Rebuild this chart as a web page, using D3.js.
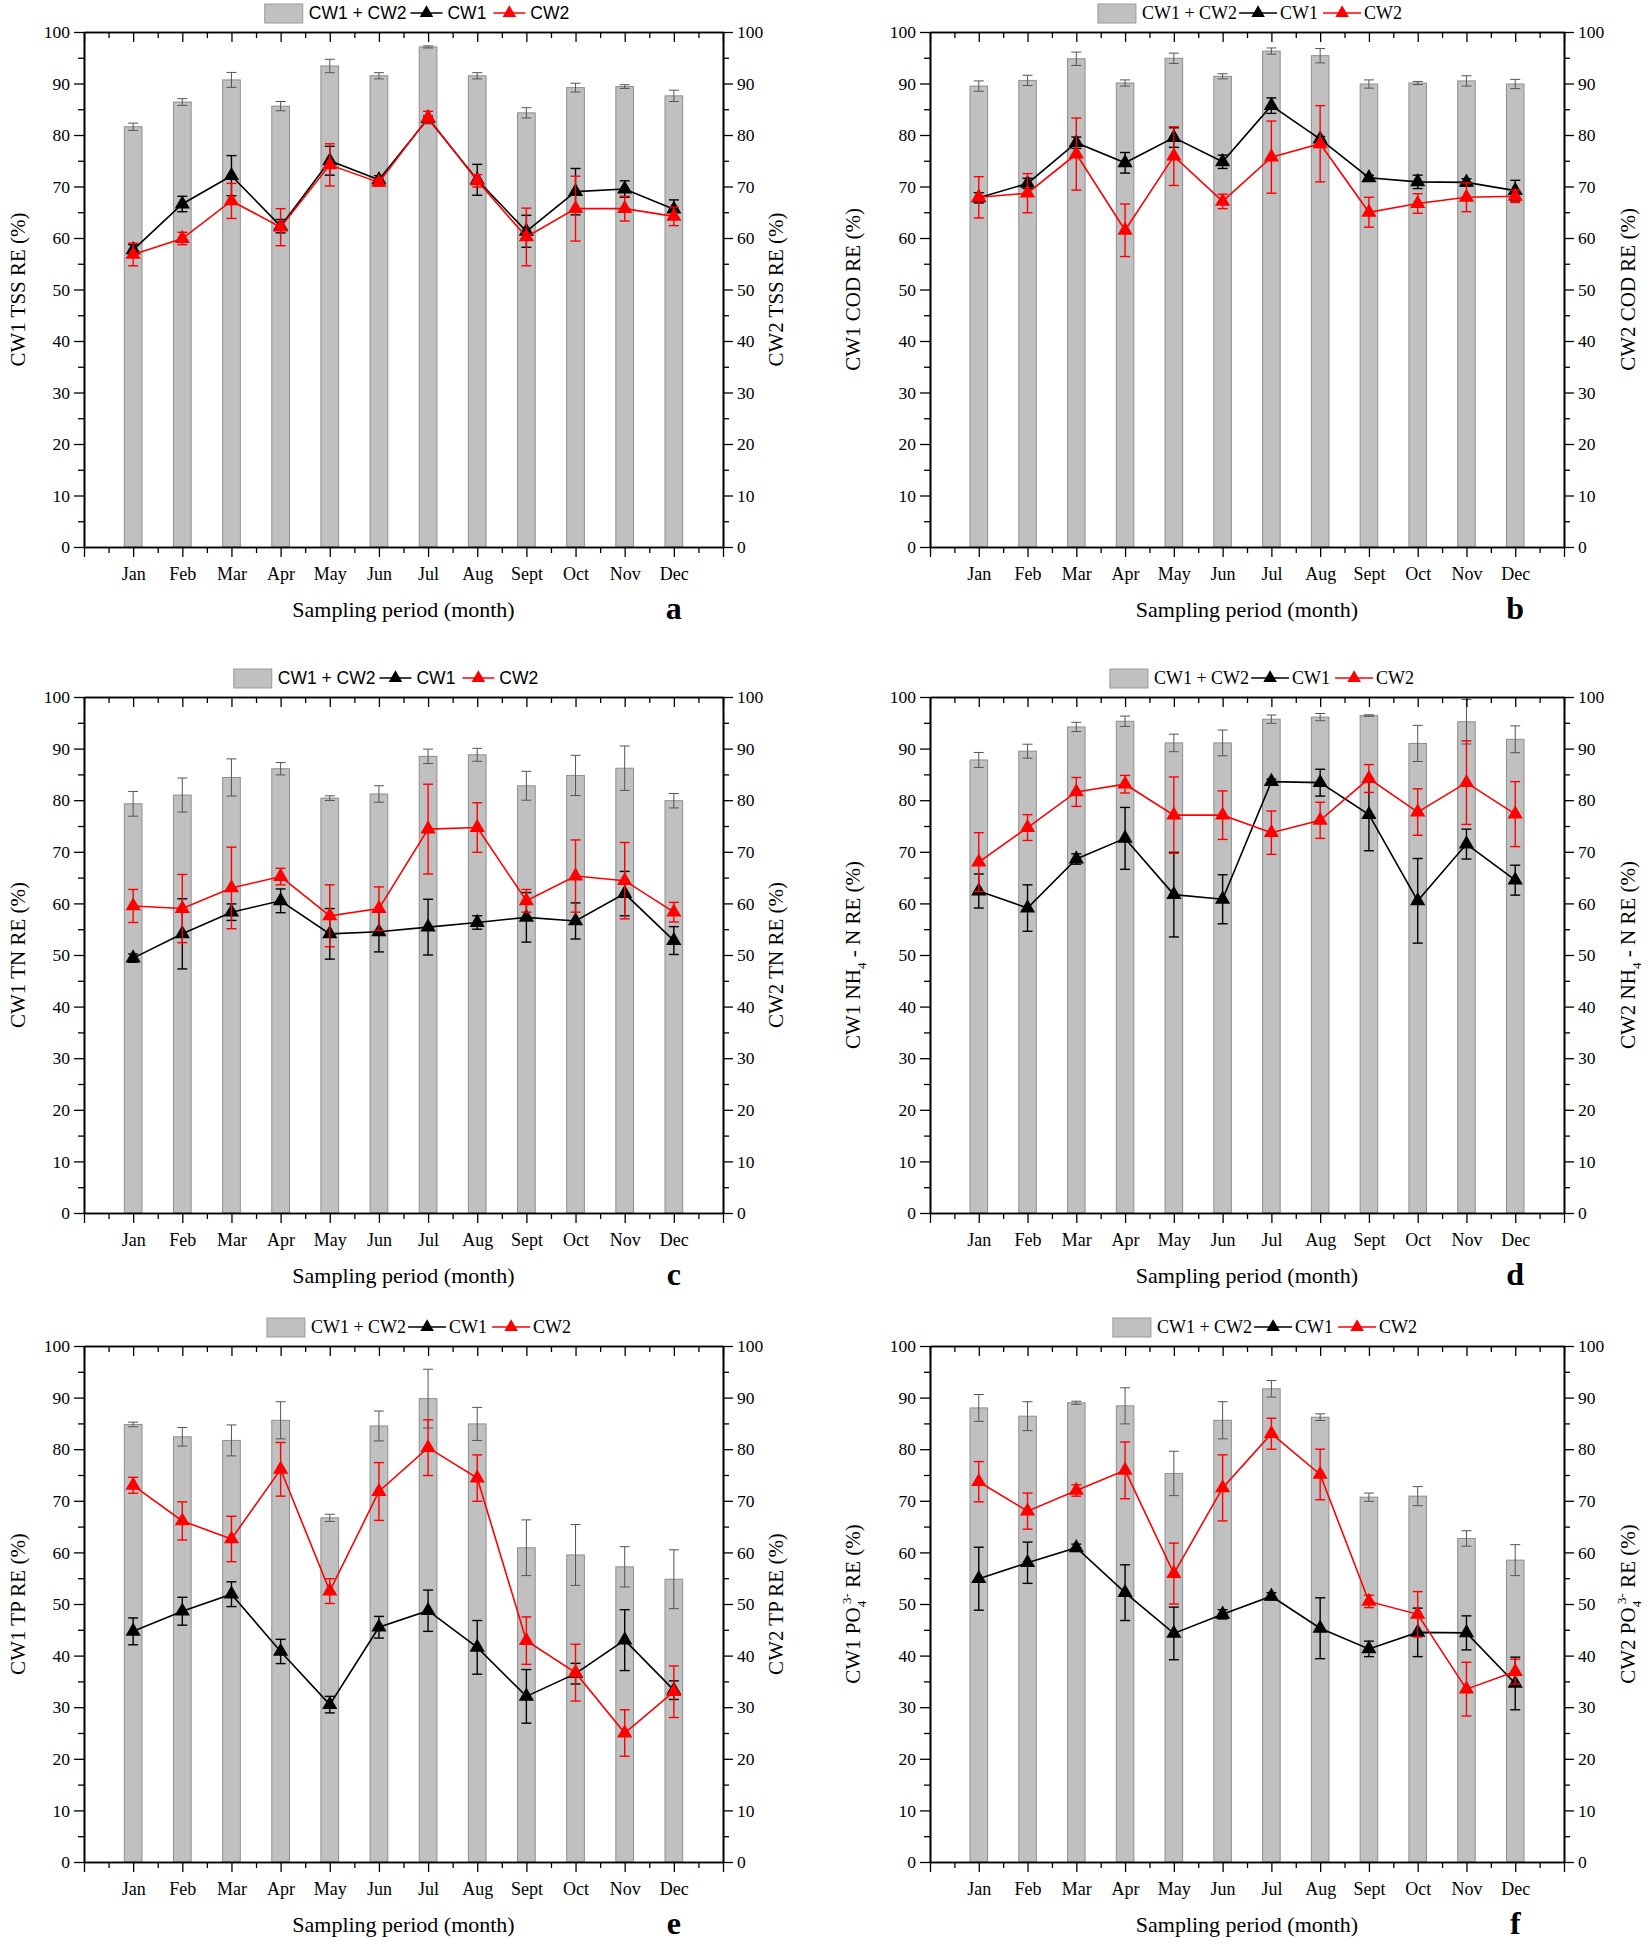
<!DOCTYPE html>
<html><head><meta charset="utf-8">
<script src="https://cdn.jsdelivr.net/npm/d3@7"></script>
<style>body{margin:0;background:#fff}</style>
</head><body>
<svg id="c" width="1652" height="1944" xmlns="http://www.w3.org/2000/svg"></svg>
<script>
const months = ["Jan","Feb","Mar","Apr","May","Jun","Jul","Aug","Sept","Oct","Nov","Dec"];
const yTicks = [0,10,20,30,40,50,60,70,80,90,100];

// (a) TSS
const tssBar    = [81.6,86.4,90.7,85.6,93.4,91.5,97.1,91.5,84.3,89.2,89.4,87.6];
const tssBarErr = [0.7,0.65,1.45,0.9,1.3,0.6,0.2,0.6,1.0,0.85,0.35,1.1];
const tssCW1    = [57.7,66.6,72.1,62.3,75.0,71.3,83.2,71.3,61.3,69.0,69.5,65.6];
const tssCW1Err = [1.0,1.5,3.9,1.3,2.8,0.8,0.5,3.0,3.1,4.5,1.6,1.8];
const tssCW2    = [56.8,59.9,67.2,62.1,74.2,70.8,83.4,71.1,60.2,65.7,65.7,64.2];
const tssCW2Err = [2.2,1.2,3.4,3.6,4.1,0.7,1.2,1.2,5.6,6.3,2.4,1.8];

// (b) COD
const codBar    = [89.5,90.6,94.8,90.1,94.9,91.4,96.3,95.4,89.9,90.1,90.5,89.9];
const codBarErr = [1.0,1.0,1.3,0.6,1.0,0.5,0.6,1.4,0.8,0.3,1.0,0.9];
const codCW1    = [67.8,70.6,78.5,74.6,79.5,74.8,85.7,79.2,71.7,70.9,70.8,69.2];
const codCW1Err = [1.0,1.0,1.1,2.0,1.9,1.3,1.5,0.5,0.5,1.3,0.7,2.0];
const codCW2    = [67.9,68.7,76.3,61.5,75.9,67.1,75.7,78.3,65.0,66.7,67.9,68.1];
const codCW2Err = [4.0,3.8,7.0,5.1,5.7,1.4,7.0,7.4,2.9,1.9,2.8,1.2];

// (c) TN
const tnBar    = [79.3,81.0,84.4,86.1,80.4,81.2,88.5,88.8,82.8,84.8,86.2,79.9];
const tnBarErr = [2.4,3.3,3.6,1.2,0.45,1.6,1.4,1.25,2.8,3.9,4.3,1.4];
const tnCW1    = [49.4,54.1,58.3,60.5,54.1,54.5,55.4,56.3,57.3,56.6,61.9,52.8];
const tnCW1Err = [0.8,6.8,1.6,2.3,4.9,3.9,5.4,1.3,4.8,3.5,4.3,2.7];
const tnCW2    = [59.5,59.0,63.0,65.2,57.6,59.0,74.4,74.7,60.5,65.3,64.4,58.3];
const tnCW2Err = [3.2,6.6,7.9,1.6,6.0,4.2,8.7,4.8,2.2,7.0,7.4,1.9];

// (d) NH4-N
const nhBar    = [87.8,89.5,94.2,95.3,91.1,91.1,95.7,96.1,96.4,91.0,95.2,91.8];
const nhBarErr = [1.45,1.35,0.9,1.0,1.7,2.5,0.8,0.7,0.15,3.5,4.3,2.6];
const nhCW1    = [62.4,59.1,68.6,72.6,61.7,60.8,83.6,83.4,77.2,60.5,71.5,64.5];
const nhCW1Err = [3.3,4.5,1.0,6.0,8.2,4.75,0.5,2.6,7.0,8.2,2.9,2.9];
const nhCW2    = [68.0,74.7,81.6,83.1,77.1,77.1,73.7,76.1,84.2,77.7,83.4,77.3];
const nhCW2Err = [5.7,2.5,2.8,1.7,7.4,4.7,4.2,3.5,2.7,4.5,8.1,6.3];

// (e) TP
const tpBar    = [84.8,82.4,81.7,85.6,66.7,84.5,89.8,84.9,60.9,59.5,57.2,54.8];
const tpBarErr = [0.45,1.8,3.0,3.6,0.7,2.9,5.7,3.2,5.4,5.9,3.9,5.7];
const tpCW1    = [44.7,48.6,51.9,40.8,30.5,45.5,48.7,41.6,32.1,36.5,43.0,33.3];
const tpCW1Err = [2.6,2.7,2.4,2.35,1.6,2.1,4.0,5.2,5.2,2.0,5.9,1.8];
const tpCW2    = [73.0,66.1,62.6,76.1,52.5,71.8,80.3,74.4,42.9,36.7,25.0,33.0];
const tpCW2Err = [1.55,3.7,4.4,5.2,2.4,5.6,5.4,4.5,4.6,5.5,4.5,5.0];

// (f) PO4
const poBar    = [88.0,86.4,89.0,88.4,75.3,85.6,91.7,86.2,70.7,70.9,62.7,58.5];
const poBarErr = [2.6,2.8,0.3,3.5,4.3,3.6,1.6,0.65,0.8,1.85,1.5,3.0];
const poCW1    = [54.9,58.0,60.9,52.2,44.3,48.0,51.5,45.3,41.3,44.5,44.4,34.6];
const poCW1Err = [6.1,4.0,0.7,5.4,5.1,0.9,0.7,5.9,1.5,4.7,3.3,5.1];
const poCW2    = [73.7,68.0,72.0,75.9,55.9,72.5,83.0,75.1,50.5,48.0,33.5,36.9];
const poCW2Err = [3.9,3.5,1.1,5.5,5.9,6.4,3.0,4.9,1.2,4.4,5.2,2.4];

const legendLabels = ["CW1 + CW2","CW1","CW2"];
const xTitle = "Sampling period (month)";

const panels = [
  {id:"a", col:0,row:0, bar:tssBar,barErr:tssBarErr,cw1:tssCW1,cw1Err:tssCW1Err,cw2:tssCW2,cw2Err:tssCW2Err,
   yl:[{t:"CW1 TSS RE (%)"}], yr:[{t:"CW2 TSS RE (%)"}], legSans:true, legX:417},
  {id:"b", col:1,row:0, bar:codBar,barErr:codBarErr,cw1:codCW1,cw1Err:codCW1Err,cw2:codCW2,cw2Err:codCW2Err,
   yl:[{t:"CW1 COD RE (%)"}], yr:[{t:"CW2 COD RE (%)"}], legSans:false, legX:1250},
  {id:"c", col:0,row:1, bar:tnBar,barErr:tnBarErr,cw1:tnCW1,cw1Err:tnCW1Err,cw2:tnCW2,cw2Err:tnCW2Err,
   yl:[{t:"CW1 TN RE (%)"}], yr:[{t:"CW2 TN RE (%)"}], legSans:true, legX:386},
  {id:"d", col:1,row:1, bar:nhBar,barErr:nhBarErr,cw1:nhCW1,cw1Err:nhCW1Err,cw2:nhCW2,cw2Err:nhCW2Err,
   yl:[{t:"CW1 NH"},{t:"4",sub:1},{t:" - N RE (%)"}], yr:[{t:"CW2 NH"},{t:"4",sub:1},{t:" - N RE (%)"}], legSans:false, legX:1262},
  {id:"e", col:0,row:2, bar:tpBar,barErr:tpBarErr,cw1:tpCW1,cw1Err:tpCW1Err,cw2:tpCW2,cw2Err:tpCW2Err,
   yl:[{t:"CW1 TP RE (%)"}], yr:[{t:"CW2 TP RE (%)"}], legSans:false, legX:419},
  {id:"f", col:1,row:2, bar:poBar,barErr:poBarErr,cw1:poCW1,cw1Err:poCW1Err,cw2:poCW2,cw2Err:poCW2Err,
   yl:[{t:"CW1 PO"},{t:"4",sub:1},{t:"3-",sup:1,back:1},{t:" RE (%)"}], yr:[{t:"CW2 PO"},{t:"4",sub:1},{t:"3-",sup:1,back:1},{t:" RE (%)"}], legSans:false, legX:1265}
];

const cols = [{l:84,r:723,lOff:59,rOff:60},{l:930,r:1564,lOff:70,rOff:71}];
const rows = [{t:32,b:547},{t:697,b:1213},{t:1346,b:1862}];
const SERIF = "'Liberation Serif','Times New Roman',Times,serif";
const SANS = "'Liberation Sans',Arial,Helvetica,sans-serif";

const svg = d3.select("#c");
svg.append("rect").attr("width",1652).attr("height",1944).attr("fill","#fff");

function styleAxis(g, fs){
  g.attr("font-family",SERIF).attr("font-size",fs);
  g.selectAll("path.domain").attr("stroke","#000").attr("stroke-width",1.6);
  g.selectAll(".tick line").attr("stroke","#000").attr("stroke-width",1.3);
  g.selectAll(".tick text").attr("fill","#000");
}

function richLabel(g, segs, x, y){
  const txt = g.append("text").attr("transform",`translate(${x},${y}) rotate(-90)`)
    .attr("text-anchor","middle").attr("font-family",SERIF).attr("font-size",21).attr("fill","#000");
  let shift = 0;
  segs.forEach(s=>{
    const ts = txt.append("tspan").text(s.t);
    if(s.sub){
      ts.attr("dy",6 - shift).attr("font-size",13); shift = 6;
    } else if(s.sup){
      ts.attr("dy",-9 - shift).attr("font-size",13); shift = -9;
      if(s.back) ts.attr("dx",-3);
    } else if(shift!==0){
      ts.attr("dy",-shift); shift = 0;
    }
  });
}

function legend(g, p, cx, cy){
  const lg = g.append("g");
  const font = p.legSans ? SANS : SERIF;
  const gapIn = p.legSans ? 4 : 2, gapOut = p.legSans ? 5 : 3;
  const lineLen = p.legSans ? 32 : 38;
  let x = 0;
  lg.append("rect").attr("x",x).attr("y",cy-9).attr("width",38).attr("height",19)
    .attr("fill","#c0c0c0").attr("stroke","#999").attr("stroke-width",1);
  x += 44;
  const addText = (s)=>{
    const t = lg.append("text").attr("x",x).attr("y",cy+6).attr("font-family",font)
      .attr("font-size",p.legSans?17.5:18).attr("fill","#000").text(s);
    x += t.node().getComputedTextLength();
  };
  const addLine = (col)=>{
    x += gapIn;
    lg.append("line").attr("x1",x).attr("x2",x+lineLen).attr("y1",cy).attr("y2",cy)
      .attr("stroke",col).attr("stroke-width",1.6);
    lg.append("path").attr("d",d3.symbol(d3.symbolTriangle,80)())
      .attr("transform",`translate(${x+lineLen/2},${cy})`).attr("fill",col);
    x += lineLen + gapOut;
  };
  addText(legendLabels[0]); addLine("#000"); addText(legendLabels[1]); x+=3; addLine("#ff0000"); addText(legendLabels[2]);
  lg.attr("transform",`translate(${cx - x/2},0)`);
}

function errorBars(g, x, y, vals, errs, color, sw, cap){
  vals.forEach((v,i)=>{
    const cxp = x(i+1), y1 = y(v+errs[i]), y2 = y(v-errs[i]);
    g.append("line").attr("x1",cxp).attr("x2",cxp).attr("y1",y1).attr("y2",y2).attr("stroke",color).attr("stroke-width",sw);
    g.append("line").attr("x1",cxp-cap/2).attr("x2",cxp+cap/2).attr("y1",y1).attr("y2",y1).attr("stroke",color).attr("stroke-width",sw);
    g.append("line").attr("x1",cxp-cap/2).attr("x2",cxp+cap/2).attr("y1",y2).attr("y2",y2).attr("stroke",color).attr("stroke-width",sw);
  });
}

panels.forEach(p=>{
  const C = cols[p.col], R = rows[p.row];
  const g = svg.append("g");
  const x = d3.scaleLinear().domain([0,13]).range([C.l,C.r]);
  const y = d3.scaleLinear().domain([0,100]).range([R.b,R.t]);
  const bw = x(0.36)-x(0);

  // bars
  g.append("g").selectAll("rect").data(p.bar).join("rect")
    .attr("x",(d,i)=>x(i+1)-bw/2).attr("width",bw)
    .attr("y",d=>y(d)).attr("height",d=>y(0)-y(d))
    .attr("fill","#c0c0c0").attr("stroke","#8e8e8e").attr("stroke-width",1);
  errorBars(g.append("g"), x, y, p.bar, p.barErr, "#555", 1, 10);

  const line = d3.line().x((d,i)=>x(i+1)).y(d=>y(d));
  // CW1
  errorBars(g.append("g"), x, y, p.cw1, p.cw1Err, "#000", 1.4, 10);
  g.append("path").attr("d",line(p.cw1)).attr("fill","none").attr("stroke","#000").attr("stroke-width",1.6);
  g.append("g").selectAll("path").data(p.cw1).join("path")
    .attr("d",d3.symbol(d3.symbolTriangle,100)()).attr("transform",(d,i)=>`translate(${x(i+1)},${y(d)})`).attr("fill","#000");
  // CW2
  errorBars(g.append("g"), x, y, p.cw2, p.cw2Err, "#ff0000", 1.4, 10);
  g.append("path").attr("d",line(p.cw2)).attr("fill","none").attr("stroke","#ff0000").attr("stroke-width",1.6);
  g.append("g").selectAll("path").data(p.cw2).join("path")
    .attr("d",d3.symbol(d3.symbolTriangle,100)()).attr("transform",(d,i)=>`translate(${x(i+1)},${y(d)})`).attr("fill","#ff0000");

  // axes
  const minorY = d3.range(5,100,10);
  const majX = d3.range(0,14), minX = d3.range(0.5,13,1);
  let a;
  a = g.append("g").attr("transform",`translate(${C.l},0)`).call(d3.axisLeft(y).tickValues(yTicks).tickSize(10).tickSizeOuter(0).tickPadding(4)); styleAxis(a,17.5);
  a = g.append("g").attr("transform",`translate(${C.l},0)`).call(d3.axisLeft(y).tickValues(minorY).tickSize(6).tickSizeOuter(0).tickFormat("")); styleAxis(a,17.5);
  a = g.append("g").attr("transform",`translate(${C.r},0)`).call(d3.axisRight(y).tickValues(yTicks).tickSize(10).tickSizeOuter(0).tickPadding(4)); styleAxis(a,17.5);
  a = g.append("g").attr("transform",`translate(${C.r},0)`).call(d3.axisRight(y).tickValues(minorY).tickSize(6).tickSizeOuter(0).tickFormat("")); styleAxis(a,17.5);
  a = g.append("g").attr("transform",`translate(0,${R.b})`).call(d3.axisBottom(x).tickValues(majX).tickSize(10).tickSizeOuter(0).tickPadding(10).tickFormat(i=>months[i-1]||"")); styleAxis(a,18);
  a = g.append("g").attr("transform",`translate(0,${R.b})`).call(d3.axisBottom(x).tickValues(minX).tickSize(6).tickSizeOuter(0).tickFormat("")); styleAxis(a,18);
  a = g.append("g").attr("transform",`translate(0,${R.t})`).call(d3.axisBottom(x).tickValues(majX).tickSize(10).tickSizeOuter(0).tickFormat("")); styleAxis(a,18);
  a = g.append("g").attr("transform",`translate(0,${R.t})`).call(d3.axisBottom(x).tickValues(minX).tickSize(6).tickSizeOuter(0).tickFormat("")); styleAxis(a,18);

  // titles
  g.append("text").attr("x",(C.l+C.r)/2).attr("y",R.b+70).attr("text-anchor","middle")
    .attr("font-family",SERIF).attr("font-size",22).attr("fill","#000").text(xTitle);
  g.append("text").attr("x",x(12)).attr("y",R.b+72).attr("text-anchor","middle")
    .attr("font-family",SERIF).attr("font-size",32).attr("font-weight","bold").attr("fill","#000").text(p.id);
  richLabel(g, p.yl, C.l-C.lOff, (R.t+R.b)/2);
  richLabel(g, p.yr, C.r+C.rOff, (R.t+R.b)/2);
  legend(g, p, p.legX, R.t-19);
});
</script>
</body></html>
